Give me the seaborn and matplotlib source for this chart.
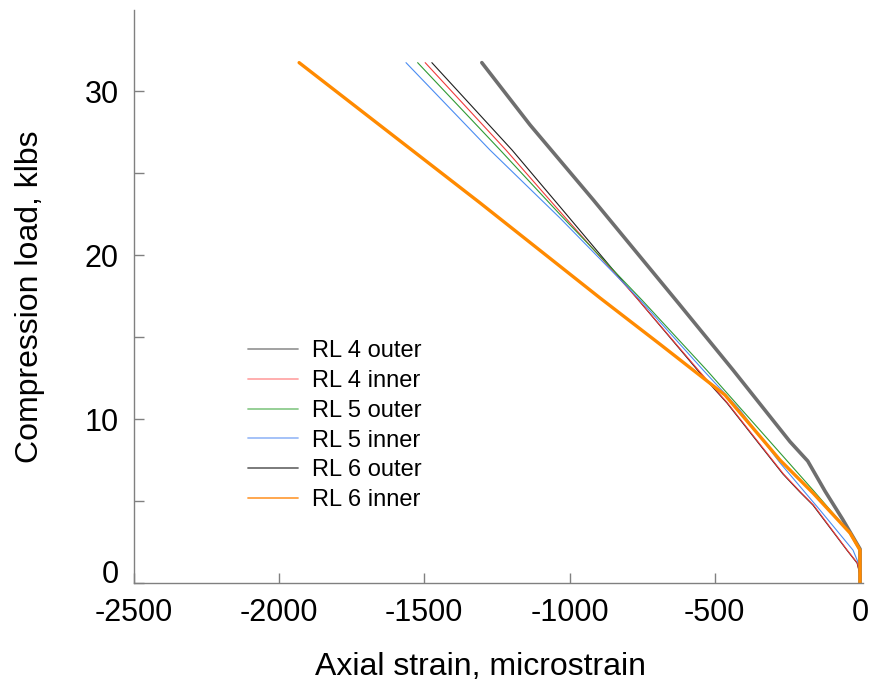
import numpy as np
import pandas as pd
import seaborn as sns
import matplotlib
matplotlib.use("Agg")
import matplotlib.pyplot as plt
from matplotlib.lines import Line2D
from matplotlib.transforms import ScaledTranslation

# ---- data ----
series_names = ["RL 4 outer", "RL 4 inner", "RL 5 outer", "RL 5 inner", "RL 6 outer", "RL 6 inner"]

rl4_outer_strain = [-1474, -1198, -1033, -763, -551, -458, -344, -265, -207, -162, -45, -10, 0, 0]
rl4_outer_load   = [31.76, 26.43, 22.97, 17.28, 12.82, 10.99, 8.42, 6.65, 5.56, 4.76, 2.01, 1.22, 0.5, 0]

rl4_inner_strain = [-1497, -1219, -1033, -763, -548, -456, -342, -263, -205, -160, -44, -9, 0, 0]
rl4_inner_load   = [31.76, 26.43, 22.67, 17.28, 12.82, 10.99, 8.42, 6.65, 5.56, 4.76, 2.01, 1.22, 0.5, 0]

rl5_outer_strain = [-1523, -1239, -1033, -751, -528, -275, -162, -34, 0, 0]
rl5_outer_load   = [31.76, 26.43, 22.50, 17.28, 13.00, 7.94, 5.68, 3.05, 2.14, 0]

rl5_inner_strain = [-1563, -1274, -1033, -757, -540, -413, -275, -138, -24, 0, 0]
rl5_inner_load   = [31.76, 26.43, 22.28, 17.28, 13.00, 10.56, 7.33, 4.46, 2.01, 0.98, 0]

rl6_outer_strain = [-1302, -1136, -918, -625, -437, -241, -180, -120, -60, 0, 0]
rl6_outer_load   = [31.76, 27.96, 23.38, 17.08, 13.00, 8.63, 7.45, 5.60, 3.90, 2.08, 0]

rl6_inner_strain = [-1931, -1308, -895, -688, -465, -275, -162, -34, 0, 0]
rl6_inner_load   = [31.76, 23.20, 17.40, 14.57, 11.48, 7.50, 5.50, 3.05, 2.01, 0]

x_ticks = [-2500, -2000, -1500, -1000, -500, 0]
y_ticks = [0, 10, 20, 30]
y_minor = [5, 15, 25]

colors = ["#1e1e1e", "#f03a3a", "#2f9a34", "#4a8cf2", "#6e6e6e", "#ff8a00"]
legend_colors = ["#9a9a9a", "#ffa8a8", "#8ecb8e", "#9dbdf8", "#707070", "#ffa040"]
widths = [0.8, 0.8, 0.8, 0.8, 2.6, 2.4]

strains = [rl4_outer_strain, rl4_inner_strain, rl5_outer_strain,
           rl5_inner_strain, rl6_outer_strain, rl6_inner_strain]
loads = [rl4_outer_load, rl4_inner_load, rl5_outer_load,
         rl5_inner_load, rl6_outer_load, rl6_inner_load]

frames = []
for name, s, l in zip(series_names, strains, loads):
    frames.append(pd.DataFrame({"strain": s, "load": l, "series": name}))
df = pd.concat(frames, ignore_index=True)

# ---- plot ----
sns.set_style("ticks")
plt.rcParams["font.family"] = ["Liberation Sans", "DejaVu Sans"]
plt.rcParams["text.color"] = "black"
plt.rcParams["axes.labelcolor"] = "black"
plt.rcParams["xtick.labelcolor"] = "black"
plt.rcParams["ytick.labelcolor"] = "black"

fig = plt.figure(figsize=(8.69, 6.82), dpi=100)
ax = fig.add_axes([0.154, 0.145, 0.839, 0.841])

sns.lineplot(data=df, x="strain", y="load", hue="series", size="series",
             hue_order=series_names, size_order=series_names,
             palette=dict(zip(series_names, colors)),
             sizes=dict(zip(series_names, widths)),
             sort=False, estimator=None, legend=False, ax=ax)

ax.set_xlim(-2500, 10)
ax.set_ylim(0, 35)
ax.set_xticks(x_ticks)
ax.set_xticklabels([str(v) for v in x_ticks])
ax.set_yticks(y_ticks)
ax.set_yticks(y_minor, minor=True)
ax.set_yticklabels([str(v) for v in y_ticks])

sns.despine(ax=ax)
for sp in ["left", "bottom"]:
    ax.spines[sp].set_color("#808080")
    ax.spines[sp].set_linewidth(1.0)

ax.tick_params(axis="both", which="both", direction="in", length=7,
               width=1.0, color="#808080", labelsize=22, labelcolor="black")
ax.tick_params(axis="x", pad=11)
ax.tick_params(axis="y", pad=11)

# lift the "0" y tick label like the reference
lbl0 = ax.get_yticklabels()[0]
lbl0.set_transform(lbl0.get_transform() + ScaledTranslation(0, 8 / 72, fig.dpi_scale_trans))

ax.set_xlabel("Axial strain, microstrain", fontsize=23, color="black")
ax.set_ylabel("Compression load, klbs", fontsize=23, color="black")
ax.xaxis.set_label_coords(0.475, -0.12)
ax.yaxis.set_label_coords(-0.122, 0.5)

handles = [Line2D([0], [0], color=c, lw=1.3) for c in legend_colors]
ax.legend(handles, series_names, loc="upper left", bbox_to_anchor=(0.144, 0.44),
          frameon=False, fontsize=17, handlelength=2.12, handletextpad=0.6,
          labelspacing=0.33, borderaxespad=0)

fig.savefig("out.png", dpi=100)
